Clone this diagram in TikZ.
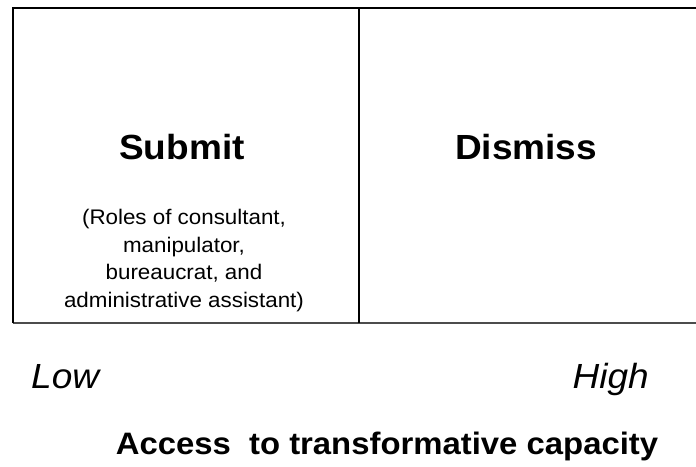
\documentclass[tikz,border=0pt]{standalone}
\usepackage{fontspec}
\setmainfont{Liberation Sans}[FakeStretch=1.06]
\tikzset{
  frame/.style={line width=2pt, draw=black},
  lowframe/.style={line width=2pt, draw=black!70},
  title/.style={font=\fontsize{34.9}{38}\selectfont\bfseries, inner sep=0pt, anchor=base},
  roles/.style={font=\fontsize{21.1}{27.5}\selectfont, align=center, inner sep=0pt, anchor=south},
  endlabel/.style={font=\fontsize{34.9}{38}\selectfont\itshape, inner sep=0pt, anchor=base},
  axis/.style={font=\fontsize{31}{34}\selectfont\bfseries, inner sep=0pt, anchor=base}
}
\begin{document}
\begin{tikzpicture}[x=1pt,y=-1pt]
\useasboundingbox (0,0) rectangle (696,466);
\coordinate (tl) at (13,8);
\coordinate (bl) at (13,323);
\coordinate (tr) at (696,8);
\coordinate (br) at (696,323);
\coordinate (mt) at (359,8);
\coordinate (mb) at (359,323);
\draw[lowframe] (bl) -- (br);
\draw[frame] (bl) -- (tl) -- (tr);
\draw[frame] (mt) -- (mb);
\node[title] (submit) at (182,159) {Submit};
\node[title] (dismiss) at (526,159) {Dismiss};
\node[roles] (roletext) at (184,312) {(Roles of consultant,\\manipulator,\\bureaucrat, and\\administrative assistant)};
\node[endlabel, anchor=base west] (low) at (31,388) {Low};
\node[endlabel, anchor=base east] (high) at (649,388) {High};
\node[axis] (axislabel) at (387,454) {Access\ \ to transformative capacity};
\end{tikzpicture}
\end{document}
